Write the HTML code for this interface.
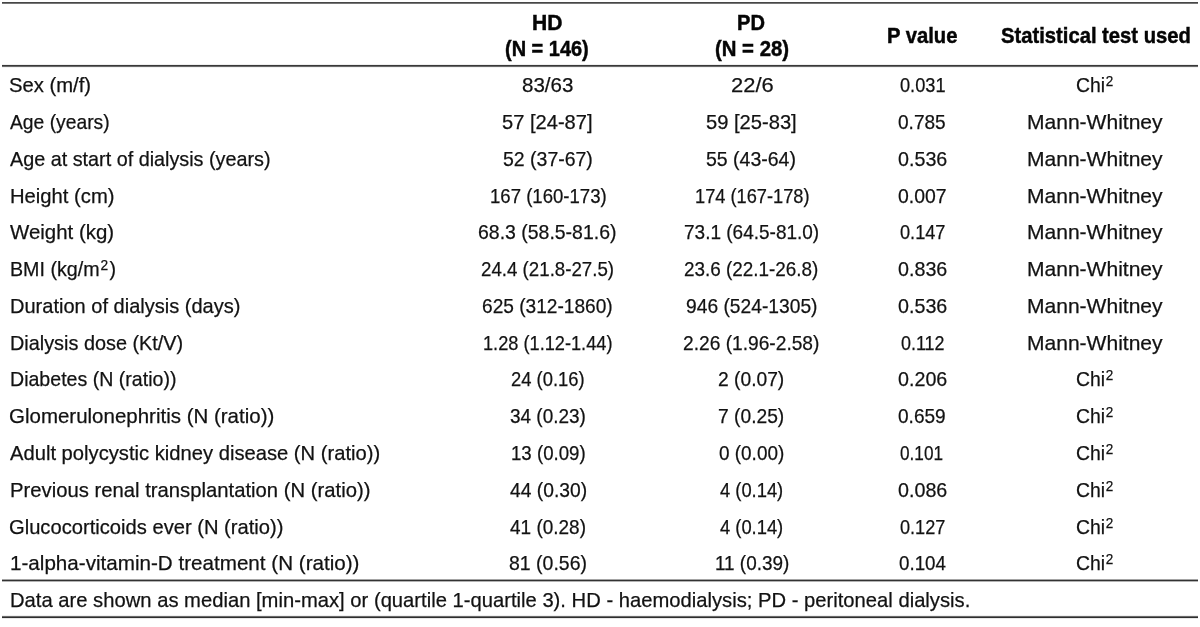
<!DOCTYPE html>
<html><head><meta charset="utf-8"><style>
html,body{margin:0;padding:0;background:#fff;}
body{width:1200px;height:627px;position:relative;overflow:hidden;font-family:"Liberation Sans",sans-serif;color:#121212;}
.t{position:absolute;white-space:nowrap;font-size:21.0px;line-height:21.0px;height:21.0px;transform-origin:0 0;-webkit-text-stroke:0.25px #121212;}
.b{font-weight:bold;font-size:21.5px;line-height:21.5px;color:#050505;-webkit-text-stroke:0.45px #050505;}
.hl{position:absolute;left:2px;width:1196px;background:#3d3d3d;}
sup{font-size:70%;vertical-align:0;position:relative;top:-0.44em;line-height:0;}
.mr{margin-right:1.5px;}
sup{margin-left:0.8px;}
</style></head><body><div class="hl" style="top:2px;height:1px;background:#474747"></div><div class="hl" style="top:3px;height:1px;background:#767676"></div><div class="hl" style="top:64px;height:1px;background:#efefef"></div><div class="hl" style="top:65px;height:1px;background:#383838"></div><div class="hl" style="top:66px;height:1px;background:#6a6a6a"></div><div class="hl" style="top:67px;height:1px;background:#f2f2f2"></div><div class="hl" style="top:579px;height:1px;background:#a4a4a4"></div><div class="hl" style="top:580px;height:1px;background:#333333"></div><div class="hl" style="top:581px;height:1px;background:#b4b4b4"></div><div class="hl" style="top:615px;height:1px;background:#f0f0f0"></div><div class="hl" style="top:616px;height:1px;background:#6a6a6a"></div><div class="hl" style="top:617px;height:1px;background:#2e2e2e"></div><div class="hl" style="top:618px;height:1px;background:#e8e8e8"></div><div id="w" style="position:absolute;left:0;top:0;width:1200px;height:627px;filter:grayscale(1)">
<div class="t" style="left:9.04px;top:74.00px;transform:scaleX(0.9639)">Sex (m/f)</div>
<div class="t" style="left:521.80px;top:74.00px;transform:scaleX(0.9773)">83/63</div>
<div class="t" style="left:730.77px;top:74.00px;transform:scaleX(1.0457)">22/6</div>
<div class="t" style="left:899.52px;top:74.00px;transform:scaleX(0.8668)">0.031</div>
<div class="t" style="left:1076.08px;top:74.00px;transform:scaleX(0.9231)">Chi<sup>2</sup></div>
<div class="t" style="left:10.00px;top:111.00px;transform:scaleX(0.9176)">Age (years)</div>
<div class="t" style="left:502.23px;top:111.00px;transform:scaleX(0.9570)">57 [24-87]</div>
<div class="t" style="left:706.22px;top:111.00px;transform:scaleX(0.9592)">59 [25-83]</div>
<div class="t" style="left:898.04px;top:111.00px;transform:scaleX(0.9081)">0.785</div>
<div class="t" style="left:1027.40px;top:111.00px;transform:scaleX(1.0015)">Mann-Whitney</div>
<div class="t" style="left:10.00px;top:148.00px;transform:scaleX(0.9420)">Age at start of dialysis (years)</div>
<div class="t" style="left:503.07px;top:148.00px;transform:scaleX(0.9274)">52 (37-67)</div>
<div class="t" style="left:706.25px;top:148.00px;transform:scaleX(0.9285)">55 (43-64)</div>
<div class="t" style="left:897.65px;top:148.00px;transform:scaleX(0.9378)">0.536</div>
<div class="t" style="left:1027.40px;top:148.00px;transform:scaleX(1.0015)">Mann-Whitney</div>
<div class="t" style="left:10.04px;top:185.00px;transform:scaleX(0.9626)">Height (cm)</div>
<div class="t" style="left:489.95px;top:185.00px;transform:scaleX(0.8846)">167 (160-173)</div>
<div class="t" style="left:695.13px;top:185.00px;transform:scaleX(0.8685)">174 (167-178)</div>
<div class="t" style="left:897.67px;top:185.00px;transform:scaleX(0.9240)">0.007</div>
<div class="t" style="left:1027.40px;top:185.00px;transform:scaleX(1.0015)">Mann-Whitney</div>
<div class="t" style="left:10.00px;top:221.00px;transform:scaleX(0.9727)">Weight (kg)</div>
<div class="t" style="left:478.07px;top:221.00px;transform:scaleX(0.9264)">68.3 (58.5-81.6)</div>
<div class="t" style="left:684.10px;top:221.00px;transform:scaleX(0.9047)">73.1 (64.5-81.0)</div>
<div class="t" style="left:899.67px;top:221.00px;transform:scaleX(0.8648)">0.147</div>
<div class="t" style="left:1027.40px;top:221.00px;transform:scaleX(1.0015)">Mann-Whitney</div>
<div class="t" style="left:10.06px;top:258.00px;transform:scaleX(0.9369)">BMI (kg/m<sup class="mr">2</sup>)</div>
<div class="t" style="left:480.83px;top:258.00px;transform:scaleX(0.8906)">24.4 (21.8-27.5)</div>
<div class="t" style="left:684.10px;top:258.00px;transform:scaleX(0.8993)">23.6 (22.1-26.8)</div>
<div class="t" style="left:897.65px;top:258.00px;transform:scaleX(0.9378)">0.836</div>
<div class="t" style="left:1027.40px;top:258.00px;transform:scaleX(1.0015)">Mann-Whitney</div>
<div class="t" style="left:10.05px;top:295.00px;transform:scaleX(0.9538)">Duration of dialysis (days)</div>
<div class="t" style="left:482.26px;top:295.00px;transform:scaleX(0.9099)">625 (312-1860)</div>
<div class="t" style="left:685.83px;top:295.00px;transform:scaleX(0.9155)">946 (524-1305)</div>
<div class="t" style="left:897.65px;top:295.00px;transform:scaleX(0.9378)">0.536</div>
<div class="t" style="left:1027.40px;top:295.00px;transform:scaleX(1.0015)">Mann-Whitney</div>
<div class="t" style="left:10.05px;top:332.00px;transform:scaleX(0.9453)">Dialysis dose (Kt/V)</div>
<div class="t" style="left:483.29px;top:332.00px;transform:scaleX(0.8662)">1.28 (1.12-1.44)</div>
<div class="t" style="left:683.26px;top:332.00px;transform:scaleX(0.9129)">2.26 (1.96-2.58)</div>
<div class="t" style="left:900.74px;top:332.00px;transform:scaleX(0.8538)">0.112</div>
<div class="t" style="left:1027.40px;top:332.00px;transform:scaleX(1.0015)">Mann-Whitney</div>
<div class="t" style="left:10.07px;top:368.00px;transform:scaleX(0.9322)">Diabetes (N (ratio))</div>
<div class="t" style="left:510.83px;top:368.00px;transform:scaleX(0.8773)">24 (0.16)</div>
<div class="t" style="left:718.25px;top:368.00px;transform:scaleX(0.9157)">2 (0.07)</div>
<div class="t" style="left:897.65px;top:368.00px;transform:scaleX(0.9378)">0.206</div>
<div class="t" style="left:1076.08px;top:368.00px;transform:scaleX(0.9231)">Chi<sup>2</sup></div>
<div class="t" style="left:9.01px;top:405.00px;transform:scaleX(0.9757)">Glomerulonephritis (N (ratio))</div>
<div class="t" style="left:509.83px;top:405.00px;transform:scaleX(0.9026)">34 (0.23)</div>
<div class="t" style="left:718.25px;top:405.00px;transform:scaleX(0.9157)">7 (0.25)</div>
<div class="t" style="left:898.04px;top:405.00px;transform:scaleX(0.9081)">0.659</div>
<div class="t" style="left:1076.08px;top:405.00px;transform:scaleX(0.9231)">Chi<sup>2</sup></div>
<div class="t" style="left:10.00px;top:442.00px;transform:scaleX(0.9612)">Adult polycystic kidney disease (N (ratio))</div>
<div class="t" style="left:510.95px;top:442.00px;transform:scaleX(0.8879)">13 (0.09)</div>
<div class="t" style="left:719.27px;top:442.00px;transform:scaleX(0.9014)">0 (0.00)</div>
<div class="t" style="left:900.16px;top:442.00px;transform:scaleX(0.8198)">0.101</div>
<div class="t" style="left:1076.08px;top:442.00px;transform:scaleX(0.9231)">Chi<sup>2</sup></div>
<div class="t" style="left:10.03px;top:479.00px;transform:scaleX(0.9651)">Previous renal transplantation (N (ratio))</div>
<div class="t" style="left:510.00px;top:479.00px;transform:scaleX(0.9169)">44 (0.30)</div>
<div class="t" style="left:720.00px;top:479.00px;transform:scaleX(0.8737)">4 (0.14)</div>
<div class="t" style="left:897.65px;top:479.00px;transform:scaleX(0.9378)">0.086</div>
<div class="t" style="left:1076.08px;top:479.00px;transform:scaleX(0.9231)">Chi<sup>2</sup></div>
<div class="t" style="left:9.02px;top:516.00px;transform:scaleX(0.9600)">Glucocorticoids ever (N (ratio))</div>
<div class="t" style="left:510.00px;top:516.00px;transform:scaleX(0.9036)">41 (0.28)</div>
<div class="t" style="left:720.00px;top:516.00px;transform:scaleX(0.8737)">4 (0.14)</div>
<div class="t" style="left:899.50px;top:516.00px;transform:scaleX(0.8632)">0.127</div>
<div class="t" style="left:1076.08px;top:516.00px;transform:scaleX(0.9231)">Chi<sup>2</sup></div>
<div class="t" style="left:10.03px;top:552.00px;transform:scaleX(0.9819)">1-alpha-vitamin-D treatment (N (ratio))</div>
<div class="t" style="left:509.07px;top:552.00px;transform:scaleX(0.9281)">81 (0.56)</div>
<div class="t" style="left:715.10px;top:552.00px;transform:scaleX(0.9000)">11 (0.39)</div>
<div class="t" style="left:899.47px;top:552.00px;transform:scaleX(0.8929)">0.104</div>
<div class="t" style="left:1076.08px;top:552.00px;transform:scaleX(0.9231)">Chi<sup>2</sup></div>
<div class="t" style="left:10.25px;top:589.00px;transform:scaleX(0.9623)">Data are shown as median [min-max] or (quartile 1-quartile 3). HD - haemodialysis; PD - peritoneal dialysis.</div>
<div class="t b" style="left:532.42px;top:13.00px;transform:scaleX(0.9795)">HD</div>
<div class="t b" style="left:505.03px;top:39.00px;transform:scaleX(0.9281)">(N = 146)</div>
<div class="t b" style="left:737.23px;top:13.00px;transform:scaleX(0.9350)">PD</div>
<div class="t b" style="left:715.05px;top:39.00px;transform:scaleX(0.9461)">(N = 28)</div>
<div class="t b" style="left:887.08px;top:26.00px;transform:scaleX(0.9398)">P value</div>
<div class="t b" style="left:1001.21px;top:26.00px;transform:scaleX(0.9403)">Statistical test used</div>
</div></body></html>
